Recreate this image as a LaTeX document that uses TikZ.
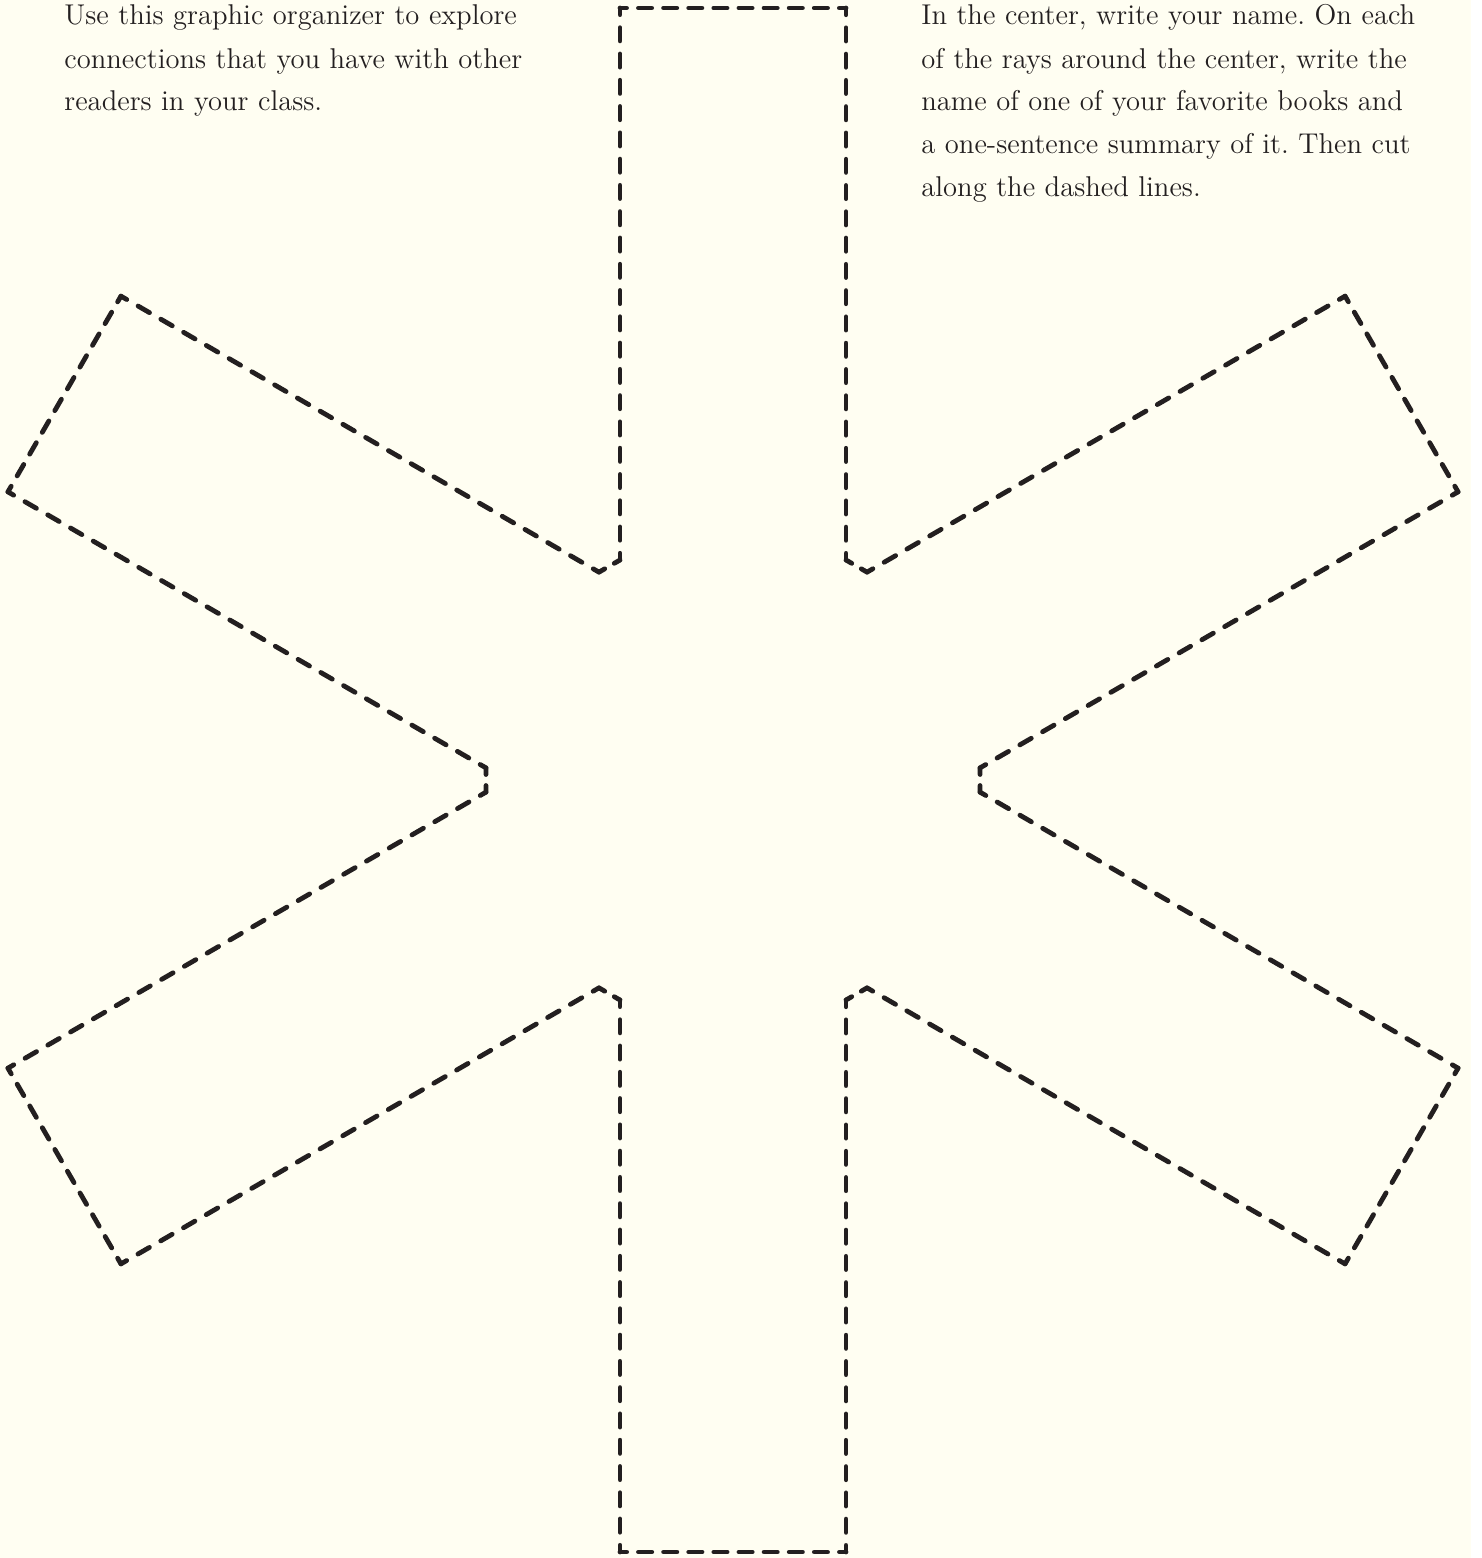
\documentclass[tikz,border=0pt]{standalone}
\usepackage{fontspec}
\definecolor{paper}{HTML}{FFFEF2}
\definecolor{ink}{HTML}{231F20}
\begin{document}
\frenchspacing
\begin{tikzpicture}[x=0.5pt,y=-0.5pt,
    cut/.style={ink, line width=2.4pt, line cap=round},
    cut end/.style={cut, dash pattern=on 6.6pt off 5.96pt, dash phase=3.3pt},
    cut side/.style={cut, dash pattern=on 6.6pt off 6.54pt, dash phase=3.3pt},
    cut notch/.style={cut, dash pattern=on 6.6pt off 5.54pt, dash phase=3.3pt},
    note/.style={ink, inner sep=0pt, anchor=base west, align=left, text width=280pt,
        font=\fontsize{14.3}{21.5}\selectfont}]
    % Paper
    \fill[paper] (0,0) rectangle (1471,1558);
    % Instructions
    \node[note] (intro) at (64,25) {Use this graphic organizer to explore\\
        connections that you have with other\\
        readers in your class.};
    \node[note] (steps) at (921,25) {In the center, write your name. On each\\
        of the rays around the center, write the\\
        name of one of your favorite books and\\
        a one-sentence summary of it. Then cut\\
        along the dashed lines.};
    % Rays
    \foreach \a in {0,60,...,300} {
        \begin{scope}[shift={(733,780)}, rotate=\a]
            \draw[cut side] (113,-220) -- (113,-772);
            \draw[cut end] (113,-772) -- (-113,-772);
            \draw[cut side] (-113,-772) -- (-113,-220);
            \draw[cut notch] (-113,-220) -- ([rotate=60]113,-220);
        \end{scope}
    }
\end{tikzpicture}
\end{document}
